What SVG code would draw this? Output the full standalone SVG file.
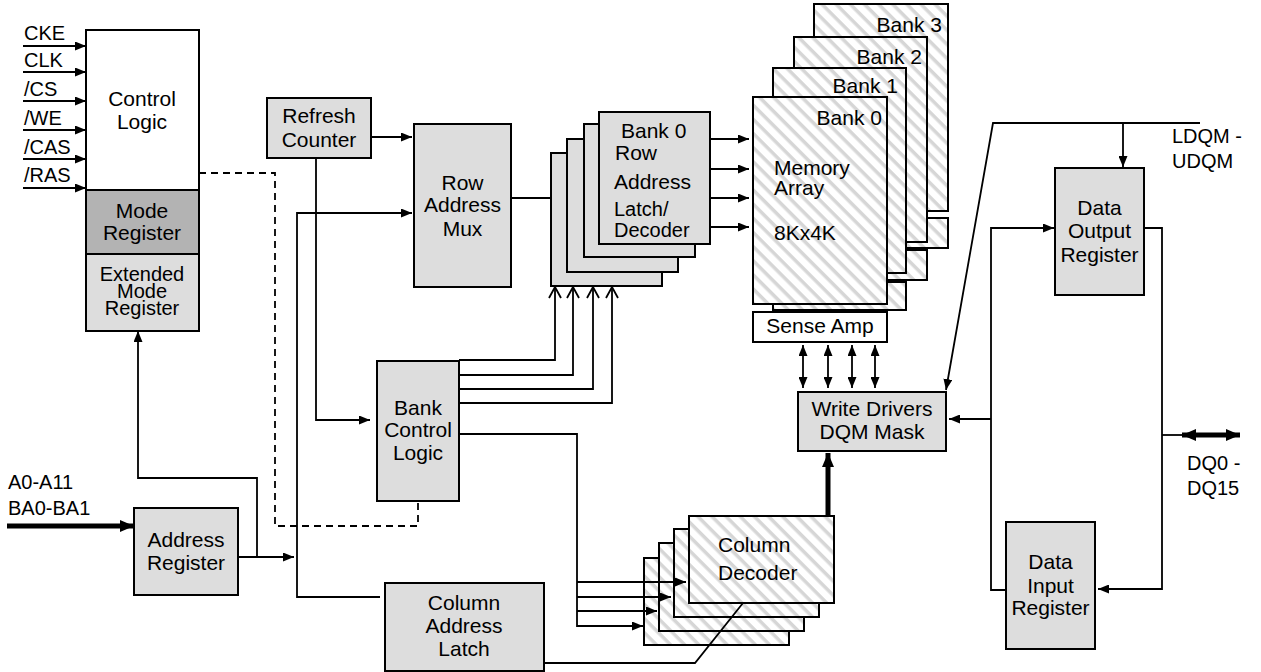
<svg xmlns="http://www.w3.org/2000/svg" width="1261" height="672" viewBox="0 0 1261 672">
<style>
text{font-family:"Liberation Sans",Arial,sans-serif;font-size:21px;fill:#000}
.m{text-anchor:middle}
.e{text-anchor:end}
.sig{font-size:20px}
.tight{font-size:20px}
.box{fill:#dddddd;stroke:#000;stroke-width:2}
.wbox{fill:#fff;stroke:#000;stroke-width:2}
.hbox{fill:url(#hatch);stroke:#000;stroke-width:2}
.dark{fill:#b3b3b3;stroke:#000;stroke-width:2}
.ln{fill:none;stroke:#000;stroke-width:1.8}
.thick{fill:none;stroke:#000;stroke-width:5}
.dash{fill:none;stroke:#000;stroke-width:1.8;stroke-dasharray:7,5}
</style>
<defs>
<pattern id="hatch" patternUnits="userSpaceOnUse" width="10" height="10" patternTransform="rotate(45)">
<rect width="10" height="10" fill="#fff"/>
<rect width="10" height="3.5" fill="#d6d6d6"/>
</pattern>
<marker id="ar" markerUnits="userSpaceOnUse" viewBox="0 0 11 9" refX="11" refY="4.5" markerWidth="11" markerHeight="9" orient="auto-start-reverse">
<path d="M0,0 L11,4.5 L0,9 z" fill="#000"/>
</marker>
<marker id="art" markerUnits="userSpaceOnUse" viewBox="0 0 14 12" refX="14" refY="6" markerWidth="14" markerHeight="12" orient="auto-start-reverse">
<path d="M0,0 L14,6 L0,12 z" fill="#000"/>
</marker>
<marker id="aro" markerUnits="userSpaceOnUse" viewBox="0 0 13 14" refX="12" refY="7" markerWidth="13" markerHeight="14" orient="auto">
<path d="M1,1 L12,7 L1,13" fill="none" stroke="#000" stroke-width="1.8"/>
</marker>
</defs>

<g id="control-logic">
<rect class="wbox" x="86" y="30" width="113" height="160"/>
<text class="m" x="142" y="106">Control</text>
<text class="m" x="142" y="129">Logic</text>
</g>
<g id="mode-register">
<rect class="dark" x="86" y="190" width="113" height="64"/>
<text class="m" x="142" y="218">Mode</text>
<text class="m" x="142" y="240">Register</text>
</g>
<g id="extended-mode-register">
<rect class="box" x="86" y="254" width="113" height="77"/>
<text class="m tight" x="142" y="281">Extended</text>
<text class="m tight" x="142" y="298">Mode</text>
<text class="m tight" x="142" y="315">Register</text>
</g>

<g id="signal-labels">
<text class="sig" x="24" y="40">CKE</text>
<text class="sig" x="24" y="67">CLK</text>
<text class="sig" x="24" y="96">/CS</text>
<text class="sig" x="24" y="125">/WE</text>
<text class="sig" x="24" y="154">/CAS</text>
<text class="sig" x="24" y="182">/RAS</text>
<text class="sig" x="8" y="489">A0-A11</text>
<text class="sig" x="8" y="515">BA0-BA1</text>
<text class="sig" x="1172" y="143">LDQM -</text>
<text class="sig" x="1172" y="168">UDQM</text>
<text class="sig" x="1187" y="470">DQ0 -</text>
<text class="sig" x="1187" y="495">DQ15</text>
</g>

<g id="refresh-counter">
<rect class="box" x="267" y="98" width="104" height="60"/>
<text class="m" x="319" y="123">Refresh</text>
<text class="m" x="319" y="147">Counter</text>
</g>

<g id="row-address-mux">
<rect class="box" x="414" y="124" width="97" height="163"/>
<text class="m" x="462.5" y="190">Row</text>
<text class="m" x="462.5" y="212">Address</text>
<text class="m" x="462.5" y="236">Mux</text>
</g>

<g id="row-address-latch">
<rect class="box" x="551" y="153" width="111" height="133"/>
<rect class="box" x="567" y="139" width="111" height="133"/>
<rect class="box" x="584" y="124" width="111" height="133"/>
<rect class="box" x="599" y="112" width="111" height="132"/>
<text x="621" y="138">Bank 0</text>
<text x="615" y="160">Row</text>
<text x="614" y="189">Address</text>
<text class="tight" x="614" y="216">Latch/</text>
<text class="tight" x="614" y="237">Decoder</text>
</g>

<g id="memory-banks">
<rect class="hbox" x="814" y="218" width="134" height="30"/>
<rect class="hbox" x="814" y="4" width="134" height="207"/>
<text class="e" x="942" y="32">Bank 3</text>
<rect class="hbox" x="794" y="250" width="133" height="30"/>
<rect class="hbox" x="794" y="37" width="133" height="205"/>
<text class="e" x="922" y="64">Bank 2</text>
<rect class="hbox" x="773" y="282" width="133" height="28"/>
<rect class="hbox" x="773" y="68" width="133" height="205"/>
<text class="e" x="898" y="93">Bank 1</text>
<rect class="hbox" x="753" y="97" width="134" height="207"/>
<text class="e" x="882" y="125">Bank 0</text>
<text x="774" y="175">Memory</text>
<text x="774" y="195">Array</text>
<text x="774" y="240">8Kx4K</text>
</g>

<g id="sense-amp">
<rect class="wbox" x="753" y="312" width="134" height="30"/>
<text class="m" x="820" y="333">Sense Amp</text>
</g>

<g id="write-drivers">
<rect class="box" x="798" y="392" width="148" height="59"/>
<text class="m" x="872" y="416">Write Drivers</text>
<text class="m" x="872" y="439">DQM Mask</text>
</g>

<g id="bank-control-logic">
<rect class="box" x="377" y="361" width="82" height="140"/>
<text class="m" x="418" y="415">Bank</text>
<text class="m" x="418" y="437">Control</text>
<text class="m" x="418" y="460">Logic</text>
</g>

<g id="column-decoder">
<rect class="hbox" x="644" y="558" width="145" height="87"/>
<rect class="hbox" x="659" y="543" width="145" height="88"/>
<rect class="hbox" x="674" y="529" width="145" height="88"/>
<rect class="hbox" x="689" y="516" width="145" height="87"/>
<text x="718" y="552">Column</text>
<text x="718" y="580">Decoder</text>
</g>

<g id="column-address-latch">
<rect class="box" x="385" y="583" width="159" height="88"/>
<text class="m" x="464" y="610">Column</text>
<text class="m" x="464" y="633">Address</text>
<text class="m" x="464" y="656">Latch</text>
</g>

<g id="address-register">
<rect class="box" x="134" y="508" width="104" height="87"/>
<text class="m" x="186" y="547">Address</text>
<text class="m" x="186" y="570">Register</text>
</g>

<g id="data-output-register">
<rect class="box" x="1055" y="168" width="89" height="127"/>
<text class="m" x="1099.5" y="215">Data</text>
<text class="m" x="1099.5" y="238">Output</text>
<text class="m" x="1099.5" y="262">Register</text>
</g>

<g id="data-input-register">
<rect class="box" x="1006" y="522" width="89" height="127"/>
<text class="m" x="1050.5" y="569">Data</text>
<text class="m" x="1050.5" y="593">Input</text>
<text class="m" x="1050.5" y="615">Register</text>
</g>

<g id="connectors">
<line class="ln" x1="23" y1="46" x2="86" y2="46" marker-end="url(#ar)"/>
<line class="ln" x1="23" y1="72" x2="86" y2="72" marker-end="url(#ar)"/>
<line class="ln" x1="23" y1="101" x2="86" y2="101" marker-end="url(#ar)"/>
<line class="ln" x1="23" y1="130" x2="86" y2="130" marker-end="url(#ar)"/>
<line class="ln" x1="23" y1="159" x2="86" y2="159" marker-end="url(#ar)"/>
<line class="ln" x1="23" y1="188" x2="86" y2="188" marker-end="url(#ar)"/>
<polyline class="dash" points="199,173 275,173 275,526 418,526 418,502"/>
<line class="thick" x1="7" y1="526" x2="134" y2="526" marker-end="url(#art)"/>
<line class="ln" x1="238" y1="557" x2="294" y2="557" marker-end="url(#ar)"/>
<polyline class="ln" points="257,557 257,478 138,478 138,331" marker-end="url(#ar)"/>
<polyline class="ln" points="380,597 297,597 297,213 412,213" marker-end="url(#ar)"/>
<line class="ln" x1="371" y1="137" x2="412" y2="137" marker-end="url(#ar)"/>
<polyline class="ln" points="316,158 316,420 370,420" marker-end="url(#ar)"/>
<line class="ln" x1="511" y1="198" x2="551" y2="198"/>
<polyline class="ln" points="459,360 555,360 555,287" marker-end="url(#aro)"/>
<polyline class="ln" points="459,375 573,375 573,287" marker-end="url(#aro)"/>
<polyline class="ln" points="459,389 593,389 593,287" marker-end="url(#aro)"/>
<polyline class="ln" points="459,403 612,403 612,287" marker-end="url(#aro)"/>
<line class="ln" x1="710" y1="139" x2="749" y2="139" marker-end="url(#ar)"/>
<line class="ln" x1="710" y1="169" x2="749" y2="169" marker-end="url(#ar)"/>
<line class="ln" x1="710" y1="198" x2="749" y2="198" marker-end="url(#ar)"/>
<line class="ln" x1="710" y1="227" x2="749" y2="227" marker-end="url(#ar)"/>
<line class="ln" x1="803" y1="345" x2="803" y2="388" marker-start="url(#ar)" marker-end="url(#ar)"/>
<line class="ln" x1="828" y1="345" x2="828" y2="388" marker-start="url(#ar)" marker-end="url(#ar)"/>
<line class="ln" x1="852" y1="345" x2="852" y2="388" marker-start="url(#ar)" marker-end="url(#ar)"/>
<line class="ln" x1="875" y1="345" x2="875" y2="388" marker-start="url(#ar)" marker-end="url(#ar)"/>
<line class="thick" x1="828" y1="515" x2="828" y2="453" marker-end="url(#art)"/>
<polyline class="ln" points="459,434 577,434 577,626 643,626" marker-end="url(#ar)"/>
<line class="ln" x1="577" y1="582" x2="686" y2="582" marker-end="url(#ar)"/>
<line class="ln" x1="577" y1="597" x2="671" y2="597" marker-end="url(#ar)"/>
<line class="ln" x1="577" y1="611" x2="657" y2="611" marker-end="url(#ar)"/>
<polyline class="ln" points="544,663 695,663 743,603"/>
<polyline class="ln" points="1200,123 993,123 946,390" marker-end="url(#ar)"/>
<line class="ln" x1="1123" y1="123" x2="1123" y2="167" marker-end="url(#ar)"/>
<polyline class="ln" points="1006,590 991,590 991,228 1054,228" marker-end="url(#ar)"/>
<line class="ln" x1="991" y1="419" x2="949" y2="419" marker-end="url(#ar)"/>
<polyline class="ln" points="1144,228 1162,228 1162,589 1098,589" marker-end="url(#ar)"/>
<line class="ln" x1="1162" y1="435" x2="1185" y2="435"/>
<line class="thick" x1="1182" y1="435" x2="1240" y2="435" marker-start="url(#art)" marker-end="url(#art)"/>
</g>
</svg>
